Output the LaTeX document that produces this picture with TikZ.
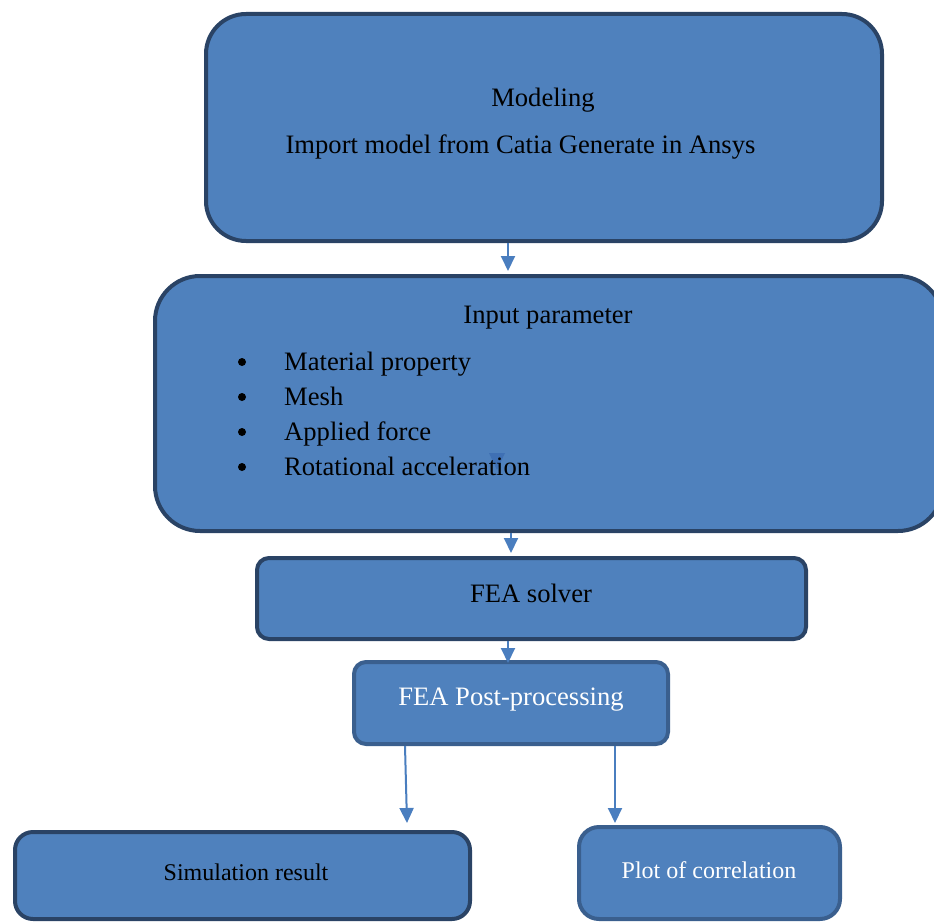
\documentclass[tikz,border=0pt]{standalone}
\usepackage{fontspec}
\setmainfont{Liberation Serif}
\usetikzlibrary{arrows.meta}
\definecolor{boxfill}{HTML}{4F81BD}
\definecolor{boxline}{HTML}{2A4365}
\definecolor{boxlinelt}{HTML}{3A5F8E}
\definecolor{arrowblue}{HTML}{4A7EBF}
\definecolor{hiddentip}{HTML}{3F70B4}
\tikzset{
  box/.style={draw=boxline, fill=boxfill, line width=4pt, inner sep=0pt},
  boxlt/.style={box, draw=boxlinelt},
  txt/.style={inner sep=0pt, yshift=-6pt, text height=0.7em, text depth=0.22em, font=\fontsize{26.6}{30}\selectfont},
  wtxt/.style={txt, text=white},
  arr/.style={draw=arrowblue, line width=2pt, -{Triangle[width=14pt,length=15pt]}}
}
\begin{document}
\begin{tikzpicture}[x=1pt,y=-1pt]
			%%%%% START %%%%%
			\clip (0,0) rectangle (934,923);
			\useasboundingbox (0,0) rectangle (934,923);
			
			% boxes
			\node[box, rounded corners=40pt, minimum width=676pt, minimum height=227pt] (model) at (544,127.5) {};
			\node[box, rounded corners=45pt, minimum width=788pt, minimum height=255pt] (input) at (549,403.5) {};
			\node[box, rounded corners=12pt, minimum width=549pt, minimum height=81pt] (solver) at (531.5,598.5) {};
			\node[boxlt, rounded corners=12pt, minimum width=314pt, minimum height=82pt] (post) at (511,703) {};
			\node[box, rounded corners=18pt, minimum width=455pt, minimum height=87pt] (simres) at (242.5,875.5) {};
			\node[boxlt, rounded corners=20pt, minimum width=261pt, minimum height=92pt] (plotcor) at (709.5,873) {};
			
			% texts
			\node[txt] (modtitle) at (543,98) {Modeling};
			\node[txt] (modline) at (520.5,145) {Import model from Catia Generate in Ansys};
			\node[txt] (intitle) at (548,315) {Input parameter};
			\fill[hiddentip] (489,453) -- (505,453) -- (497,470) -- cycle;
			\foreach \item [count=\i] in {Material property, Mesh, Applied force, Rotational acceleration}{
				\node[circle, fill=black, inner sep=0pt, minimum size=8pt] (dot\i) at (242,327+35*\i) {};
				\node[txt, anchor=west] (item\i) at (284,327+35*\i) {\item};
			}
			\node[txt] (soltxt) at (531,594) {FEA solver};
			\node[wtxt] (posttxt) at (511,697) {FEA Post-processing};
			\node[txt, font=\fontsize{24}{28}\selectfont] (simtxt) at (246,872) {Simulation result};
			\node[wtxt, font=\fontsize{24}{28}\selectfont] (plottxt) at (709,870) {Plot of correlation};
			
			% arrows
			\coordinate (t1) at (508,271);
			\coordinate (t2) at (511,553);
			\coordinate (t3) at (508,663);
			\coordinate (t4) at (407,823);
			\coordinate (t5) at (615,823);
			\draw[arr] (t1 |- model.south) -- (t1);
			\draw[arr] (t2 |- input.south) -- (t2);
			\draw[arr] (t3 |- solver.south) -- (t3);
			\draw[arr] (405,746) -- (t4);
			\draw[arr] (t5 |- post.south) -- (t5);
			%%%%% END %%%%%
\end{tikzpicture}
\end{document}
